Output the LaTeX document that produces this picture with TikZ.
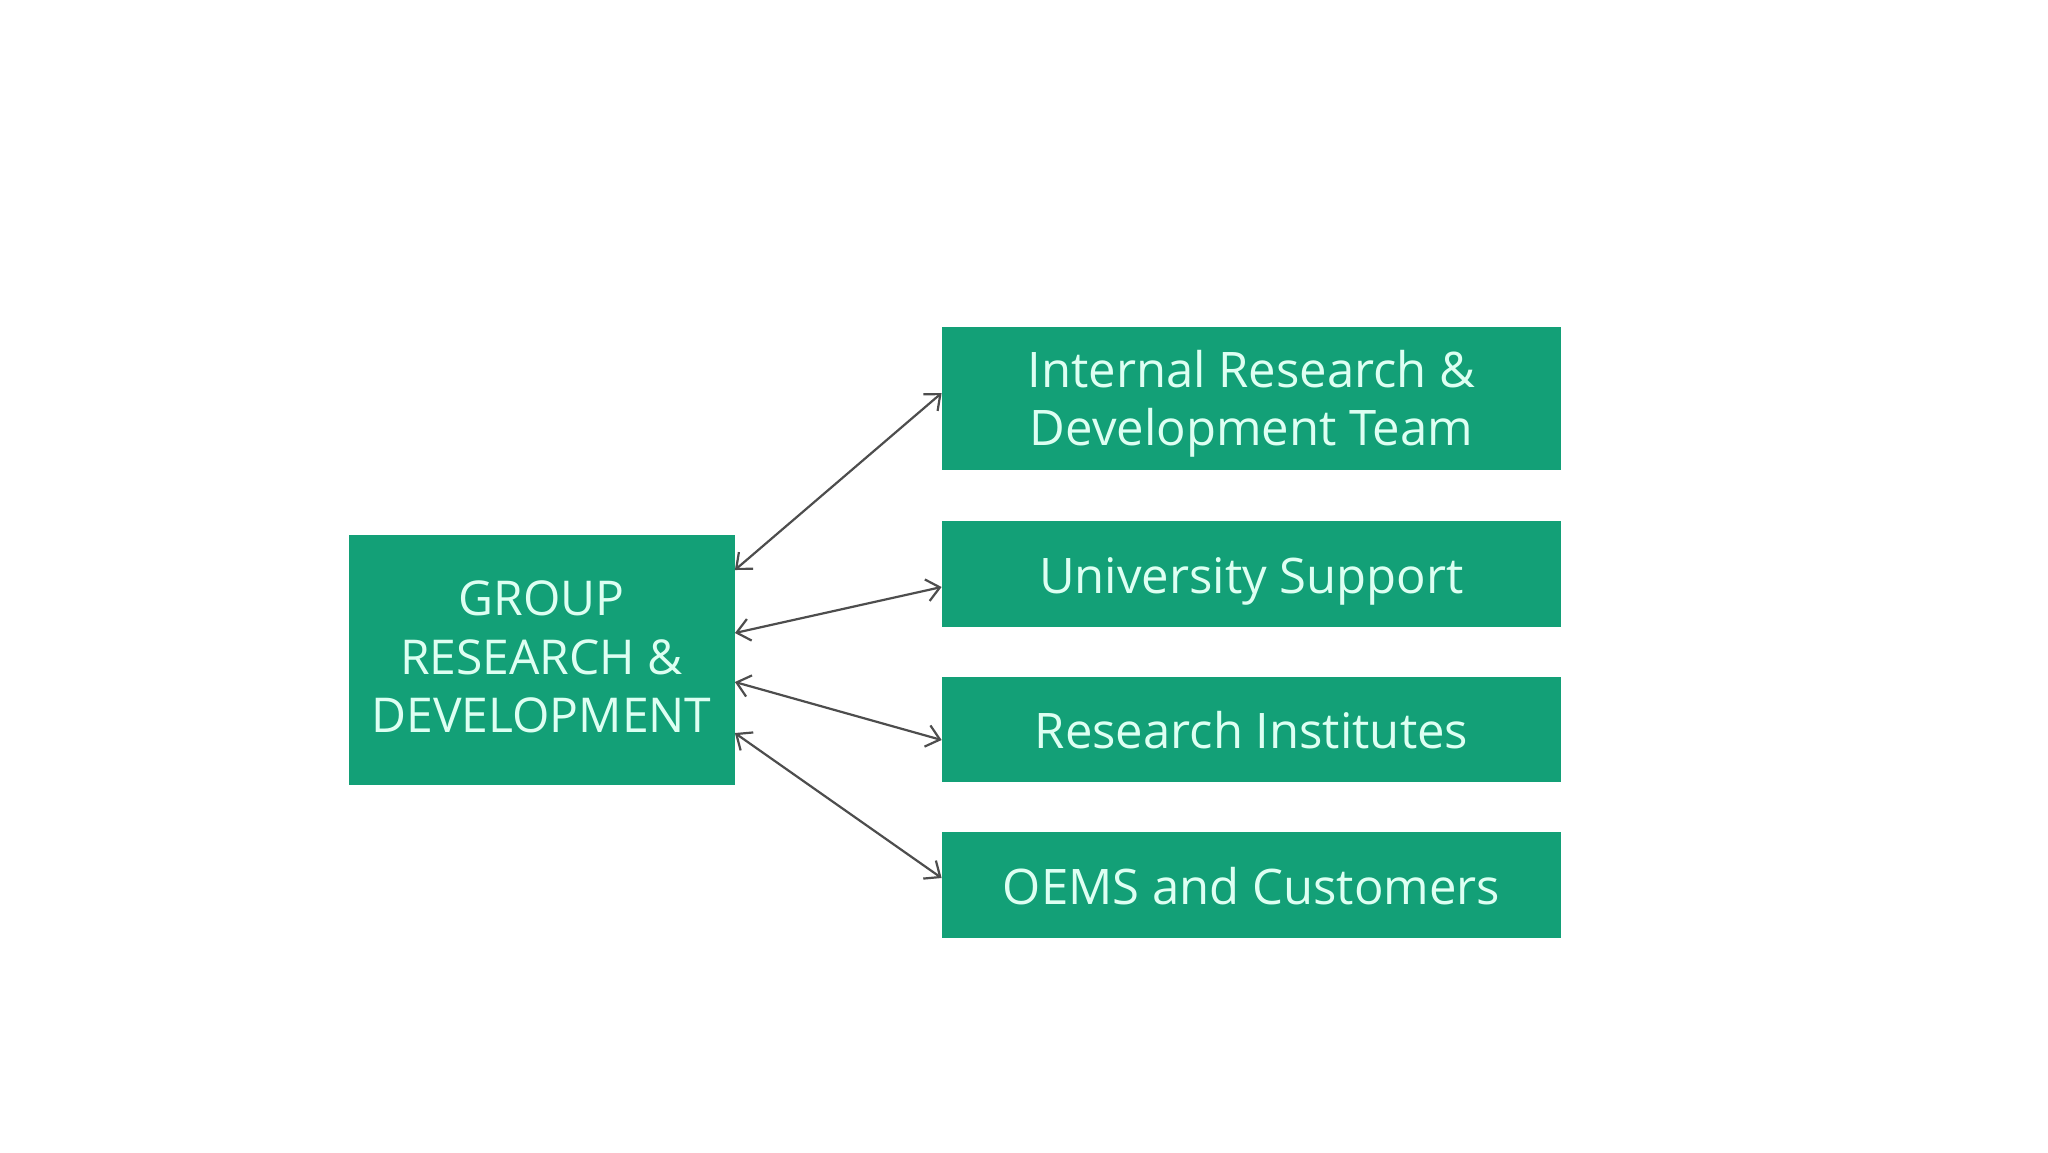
\documentclass[tikz,border=0pt]{standalone}
\usepackage{fontspec}
\setmainfont{Open Sans}
\usetikzlibrary{arrows.meta}
\definecolor{boxgreen}{HTML}{13A077}
\definecolor{boxtext}{HTML}{DDFFF2}
\definecolor{conngray}{HTML}{4D4D4D}
\tikzset{
  greenbox/.style={fill=boxgreen, draw=none, inner sep=0pt},
  rightbox/.style={greenbox, minimum width=309.5pt},
  leftbox/.style={greenbox, minimum width=193pt, minimum height=125pt},
  boxlabel/.style={inner sep=0pt, text=boxtext, align=center, font=\fontsize{24.5}{29}\selectfont},
  oneline/.style={text=boxtext, font=\fontsize{24.5}{29}\selectfont, text height=19.3pt, text depth=0pt},
  leftlabel/.style={inner sep=0pt, text=boxtext, align=center, font=\fontsize{24}{29.3}\selectfont},
  conn/.style={draw=conngray, line width=1.1pt, {Straight Barb[length=6.5pt,width=11pt]}-{Straight Barb[length=6.5pt,width=11pt]}}
}
\begin{document}
\begin{tikzpicture}[x=0.5pt,y=-0.5pt]
\useasboundingbox[fill=white] (0,0) rectangle (2048,1152);
\node[leftbox] (L) at (541.5,660) {};
\node[leftlabel] (Lt) at ([yshift=1.5pt]L.center) {GROUP\\RESEARCH \&\\DEVELOPMENT};
\node[rightbox, minimum height=71.5pt] (A) at (1251.5,398.5) {};
\node[boxlabel] (At) at ([yshift=-2.6pt]A.center) {Internal Research \&\\Development Team};
\node[rightbox, oneline, minimum height=53pt] (B) at (1251.5,574) {University Support};
\node[rightbox, oneline, minimum height=52.5pt] (C) at (1251.5,729.5) {Research Institutes};
\node[rightbox, oneline, minimum height=53pt] (D) at (1251.5,885) {OEMS and Customers};
\draw[conn] ([yshift=45pt]L.east) -- ([yshift=2.75pt]A.west);
\draw[conn] ([yshift=13.5pt]L.east) -- ([yshift=-6.5pt]B.west);
\draw[conn] ([yshift=-11pt]L.east) -- ([yshift=-5.25pt]C.west);
\draw[conn] ([yshift=-36.5pt]L.east) -- ([yshift=3.5pt]D.west);
\end{tikzpicture}
\end{document}
